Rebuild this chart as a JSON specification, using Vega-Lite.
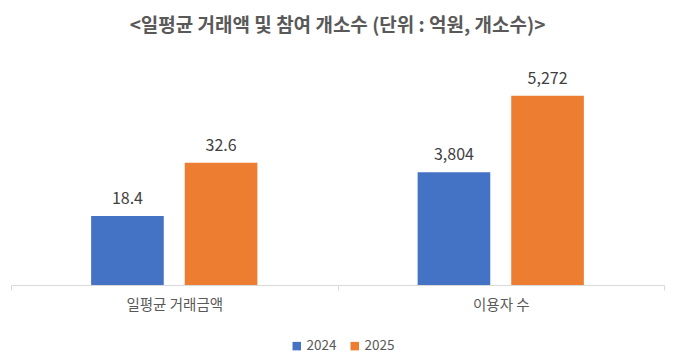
{
  "$schema": "https://vega.github.io/schema/vega-lite/v6.json",
  "width": 653,
  "height": 225,
  "padding": {"left": 10, "top": 17, "right": 17, "bottom": 5},
  "background": "white",
  "config": {"view": {"stroke": null}, "font": "Noto Sans CJK KR"},
  "title": {
    "text": "<일평균 거래액 및 참여 개소수 (단위 : 억원, 개소수)>",
    "fontSize": 19,
    "font": "Noto Sans CJK KR",
    "fontWeight": "bold",
    "color": "#595959",
    "offset": 24,
    "anchor": "middle"
  },
  "data": {
    "values": [
      {"group": "일평균 거래금액", "year": "2024", "value": 18.4},
      {"group": "일평균 거래금액", "year": "2025", "value": 32.6},
      {"group": "이용자 수", "year": "2024", "value": 3804},
      {"group": "이용자 수", "year": "2025", "value": 5272}
    ]
  },
  "encoding": {
    "x": {
      "field": "group",
      "type": "nominal",
      "sort": ["일평균 거래금액", "이용자 수"],
      "scale": {"paddingInner": 0, "paddingOuter": 0},
      "axis": {
        "title": null,
        "domainColor": "#D9D9D9",
        "tickColor": "#D9D9D9",
        "tickSize": 5,
        "tickBand": "extent",
        "labelFont": "Noto Sans CJK KR",
        "labelFontSize": 14.5,
        "labelColor": "#595959",
        "labelPadding": 8,
        "labelAngle": 0,
        "grid": false
      }
    },
    "xOffset": {
      "field": "year",
      "type": "nominal",
      "scale": {"paddingInner": 0.224, "paddingOuter": 0.856}
    },
    "color": {
      "field": "year",
      "type": "nominal",
      "scale": {"domain": ["2024", "2025"], "range": ["#4472C4", "#ED7D31"]},
      "legend": {
        "title": null,
        "orient": "none",
        "legendX": 279,
        "legendY": 279,
        "direction": "horizontal",
        "symbolType": "square",
        "symbolSize": 72,
        "symbolStrokeWidth": 0,
        "labelFontSize": 13.5,
        "labelColor": "#595959",
        "labelFont": "Noto Sans CJK KR",
        "labelOffset": 3,
        "columnPadding": 11
      }
    }
  },
  "layer": [
    {
      "transform": [{"filter": {"field": "group", "equal": "일평균 거래금액"}}],
      "encoding": {
        "y": {"field": "value", "type": "quantitative", "scale": {"domain": [0, 60]}, "axis": null}
      },
      "layer": [
        {"mark": {"type": "bar"}},
        {
          "mark": {"type": "text", "baseline": "alphabetic", "dy": -12, "fontSize": 16, "font": "Noto Sans CJK KR"},
          "encoding": {
            "text": {"field": "value", "type": "quantitative", "format": ".1f"},
            "color": {"value": "#404040"}
          }
        }
      ]
    },
    {
      "transform": [{"filter": {"field": "group", "equal": "이용자 수"}}],
      "encoding": {
        "y": {"field": "value", "type": "quantitative", "scale": {"domain": [1644, 5956], "zero": false, "clamp": true}, "axis": null}
      },
      "layer": [
        {"mark": {"type": "bar"}},
        {
          "mark": {"type": "text", "baseline": "alphabetic", "dy": -12, "fontSize": 16, "font": "Noto Sans CJK KR"},
          "encoding": {
            "text": {"field": "value", "type": "quantitative", "format": ","},
            "color": {"value": "#404040"}
          }
        }
      ]
    }
  ],
  "resolve": {"scale": {"y": "independent"}}
}
